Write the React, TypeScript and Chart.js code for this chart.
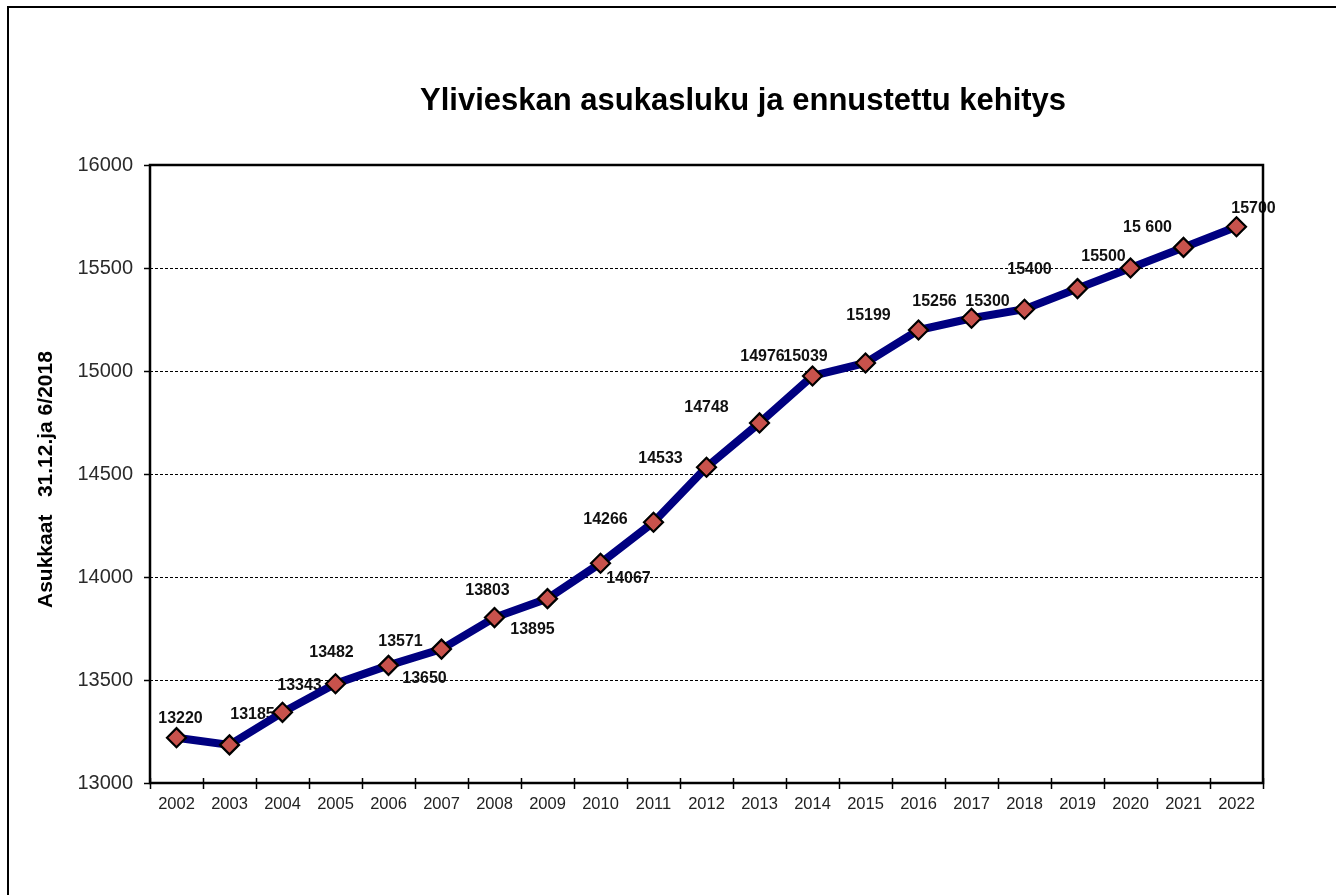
import React, { useEffect, useRef } from "react";
import { Chart, registerables } from "chart.js";

Chart.register(...registerables);

// ---- data ----
const years = [
  "2002", "2003", "2004", "2005", "2006", "2007", "2008", "2009", "2010", "2011",
  "2012", "2013", "2014", "2015", "2016", "2017", "2018", "2019", "2020", "2021", "2022",
];
const population = [
  13220, 13185, 13343, 13482, 13571, 13650, 13803, 13895, 14067, 14266,
  14533, 14748, 14976, 15039, 15199, 15256, 15300, 15400, 15500, 15600, 15700,
];
const pointLabels = [
  "13220", "13185", "13343", "13482", "13571", "13650", "13803", "13895", "14067", "14266",
  "14533", "14748", "14976", "15039", "15199", "15256", "15300", "15400", "15500", "15 600", "15700",
];
const yMin = 13000;
const yMax = 16000;
const yStep = 500;
const chartTitle = "Ylivieskan asukasluku ja ennustettu kehitys";
const yAxisTitle = "Asukkaat   31.12.ja 6/2018";

// ---- layout (label placement relative to its point, px) ----
const labelOffsets: [number, number][] = [
  [4, -19], [23, -30], [17, -27], [-4, -31], [12, -24], [-17, 29], [-7, -27],
  [-15, 31], [28, 15], [-48, -3], [-46, -9], [-53, -15], [-50, -19], [-60, -6],
  [-50, -14], [-37, -17], [-37, -8], [-48, -19], [-27, -11], [-36, -20], [17, -18],
];

const FONT = '"Liberation Sans", Arial, Helvetica, sans-serif';

const decorPlugin = {
  id: "decor",
  beforeDatasetsDraw(chart: any) {
    const { ctx } = chart;
    const meta = chart.getDatasetMeta(0);
    ctx.save();
    ctx.font = `bold 16px ${FONT}`;
    ctx.fillStyle = "#111";
    ctx.textAlign = "center";
    ctx.textBaseline = "middle";
    meta.data.forEach((pt: any, i: number) => {
      const off = labelOffsets[i] || [0, -20];
      ctx.fillText(pointLabels[i], pt.x + off[0], pt.y + off[1]);
    });
    ctx.restore();
  },
  afterDraw(chart: any) {
    const { ctx, chartArea } = chart;
    const xs = chart.scales.x;
    ctx.save();
    // x tick marks crossing the axis at category boundaries
    ctx.strokeStyle = "#000";
    ctx.lineWidth = 1.5;
    for (let i = 0; i <= years.length; i++) {
      const x = Math.round(xs.getPixelForValue(i - 0.5)) + 0.5;
      ctx.beginPath();
      ctx.moveTo(x, chartArea.bottom - 5);
      ctx.lineTo(x, chartArea.bottom + 6);
      ctx.stroke();
    }
    // plot frame
    ctx.lineWidth = 2.5;
    ctx.strokeRect(chartArea.left, chartArea.top, chartArea.right - chartArea.left, chartArea.bottom - chartArea.top);
    // outer border (top and left visible)
    ctx.lineWidth = 2;
    ctx.beginPath();
    ctx.moveTo(8, chart.height + 2);
    ctx.lineTo(8, 7);
    ctx.lineTo(chart.width + 2, 7);
    ctx.stroke();
    // title
    ctx.fillStyle = "#000";
    ctx.font = `bold 31px ${FONT}`;
    ctx.textAlign = "left";
    ctx.textBaseline = "alphabetic";
    ctx.fillText(chartTitle, 420, 110);
    // y axis title
    ctx.font = `bold 21px ${FONT}`;
    ctx.translate(46, 608);
    ctx.rotate(-Math.PI / 2);
    ctx.textBaseline = "middle";
    ctx.fillText(yAxisTitle, 0, 0);
    ctx.restore();
  },
};

export default function App() {
  const ref = useRef<HTMLCanvasElement | null>(null);
  useEffect(() => {
    if (!ref.current) return;
    const chart = new Chart(ref.current, {
      type: "line",
      data: {
        labels: years,
        datasets: [
          {
            data: population,
            borderColor: "#000080",
            borderWidth: 8,
            pointStyle: "rectRot",
            pointRadius: 9.5,
            pointHoverRadius: 9.5,
            pointBackgroundColor: "#C8524C",
            pointBorderColor: "#000",
            pointBorderWidth: 2.2,
            tension: 0,
            fill: false,
          },
        ],
      },
      options: {
        responsive: false,
        animation: false,
        events: [],
        layout: { padding: { left: 0, top: 165, right: 73, bottom: 72 } },
        plugins: { legend: { display: false }, title: { display: false }, tooltip: { enabled: false } },
        scales: {
          x: {
            type: "category",
            offset: true,
            grid: { display: false, drawTicks: false, offset: true },
            border: { display: false },
            ticks: {
              color: "#222",
              font: { family: FONT, size: 16.5 },
              padding: 12,
              maxRotation: 0,
              autoSkip: false,
            },
            afterFit: (s: any) => {
              s.height = 40;
            },
          },
          y: {
            min: yMin,
            max: yMax,
            grid: {
              color: "#000",
              lineWidth: 1,
              drawTicks: true,
              tickLength: 6,
              tickColor: "#000",
              tickWidth: 1.5,
            },
            border: { display: false, dash: [3, 2] },
            ticks: {
              stepSize: yStep,
              color: "#2a2a2a",
              font: { family: FONT, size: 20 },
              padding: 11,
              callback: (v: any) => String(v),
            },
            afterFit: (s: any) => {
              s.width = 150;
            },
          },
        },
      },
      plugins: [decorPlugin],
    } as any);
    return () => chart.destroy();
  }, []);
  return (
    <div style={{ position: "absolute", left: 0, top: 0, width: 1336, height: 895, background: "#fff" }}>
      <canvas ref={ref} width={1336} height={895} />
    </div>
  );
}
